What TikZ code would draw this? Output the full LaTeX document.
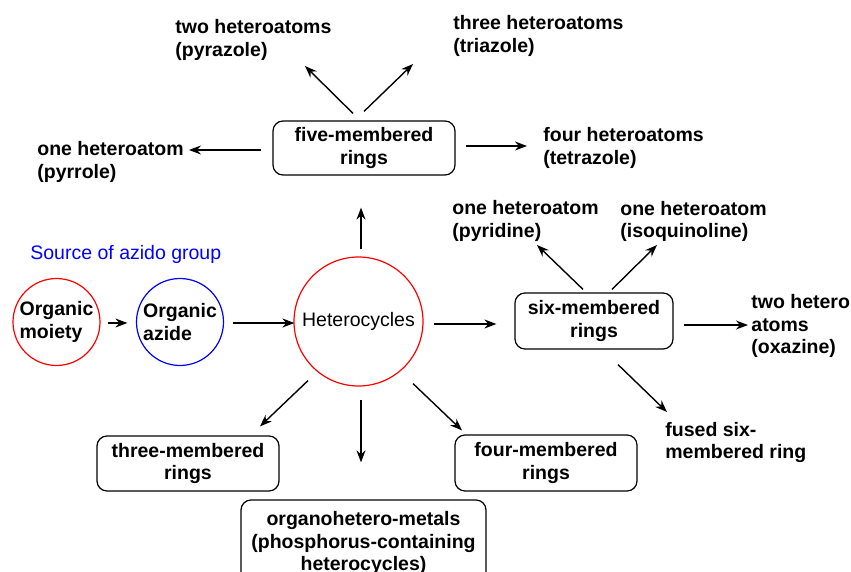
\documentclass[tikz,border=0pt]{standalone}
\usepackage{fontspec}
\setmainfont{Liberation Sans}
\usetikzlibrary{arrows.meta, calc}

\begin{document}
\begin{tikzpicture}[x=0.5pt, y=-0.5pt,
    font=\fontsize{9.75}{11.25}\selectfont,
    lbl/.style={font=\fontsize{9.75}{11.25}\selectfont\bfseries, align=left, inner sep=0pt, anchor=west},
    box/.style={draw, rounded corners=5pt, line width=0.6pt, align=center, inner sep=0pt,
                font=\fontsize{9.75}{11.25}\selectfont\bfseries},
    ring/.style={circle, draw, line width=0.6pt, inner sep=0pt},
    arr/.style={-{Stealth[length=6pt, width=4.5pt]}, line width=0.7pt}]
    \useasboundingbox (0,0) rectangle (851,572);
    \clip (0,0) rectangle (851,572);

    % central part
    \node[ring, red, text=black, minimum size=64.5pt] (hetero) at (358.5,321.5) {Heterocycles};
    \node[ring, red, text=black, minimum size=43.5pt, align=left, font=\fontsize{9.75}{11.25}\selectfont\bfseries] (moiety) at (56.5,322) {Organic\\moiety};
    \node[ring, blue, text=black, minimum size=43.5pt, align=left, font=\fontsize{9.75}{11.25}\selectfont\bfseries] (azide) at (180,322) {Organic\\azide};
    \node[anchor=west, inner sep=0pt, text=blue] (source) at (30,254) {Source of azido group};

    % ring boxes
    \node[box, minimum width=91pt, minimum height=27pt] (five) at (364,148) {five-membered\\rings};
    \node[box, minimum width=79pt, minimum height=28pt] (six) at (594,321) {six-membered\\rings};
    \node[box, minimum width=91pt, minimum height=27.5pt] (three) at (188,463.5) {three-membered\\rings};
    \node[box, minimum width=91pt, minimum height=28pt] (four) at (546,463) {four-membered\\rings};
    \node[box, minimum width=122.5pt, minimum height=43pt] (organo) at (363.5,543) {organohetero-metals\\(phosphorus-containing\\heterocycles)};

    % products
    \node[lbl] (pyrazole) at (175,40) {two heteroatoms\\(pyrazole)};
    \node[lbl] (triazole) at (453,36) {three heteroatoms\\(triazole)};
    \node[lbl] (pyrrole) at (37,162) {one heteroatom\\(pyrrole)};
    \node[lbl] (tetrazole) at (543,148) {four heteroatoms\\(tetrazole)};
    \node[lbl] (pyridine) at (452,221) {one heteroatom\\(pyridine)};
    \node[lbl] (isoquin) at (620,221.5) {one heteroatom\\(isoquinoline)};
    \node[lbl] (oxazine) at (751,326) {two hetero\\atoms\\(oxazine)};
    \node[lbl] (fused) at (665,442.5) {fused six-\\membered ring};

    % arrows
    \draw[arr] ($(moiety.east)+(7,1)$) -- ($(azide.west)+(-8.5,1)$);
    \draw[arr] ($(azide.east)+(8.5,1)$) -- ($(hetero.west)+(1,1.5)$);
    \draw[arr] ($(hetero.north)+(2.5,-7)$) -- ($(five.south)+(-3,32)$);
    \draw[arr] ($(hetero.east)+(10,2.5)$) -- ($(six.west)+(-18,3)$);
    \draw[arr] ($(hetero.south)+(-50.5,-6)$) -- ($(three.north)+(72,-9)$);
    \draw[arr] ($(hetero.south)+(2.5,13)$) -- ($(organo.north)+(-2.5,-37)$);
    \draw[arr] ($(hetero.south)+(54.5,-3)$) -- ($(four.north)+(-84,-4)$);

    \draw[arr] ($(five.north)+(-11,-7)$) -- ($(pyrazole.west)+(130,26)$);
    \draw[arr] ($(five.north)+(0,-9)$) -- ($(triazole.west)+(-40,28)$);
    \draw[arr] ($(five.west)+(-11,2)$) -- ($(pyrrole.west)+(152,-12)$);
    \draw[arr] ($(five.east)+(10,-2)$) -- ($(tetrazole.west)+(-16,-2)$);

    \draw[arr] ($(six.north)+(-11,-3)$) -- ($(pyridine.west)+(85,24)$);
    \draw[arr] ($(six.north)+(18,-3)$) -- ($(isoquin.west)+(37,23.5)$);
    \draw[arr] ($(six.east)+(10,4)$) -- ($(oxazine.west)+(-3,-1)$);
    \draw[arr] ($(six.south)+(24,15)$) -- ($(fused.west)+(2,-30.5)$);
\end{tikzpicture}
\end{document}
